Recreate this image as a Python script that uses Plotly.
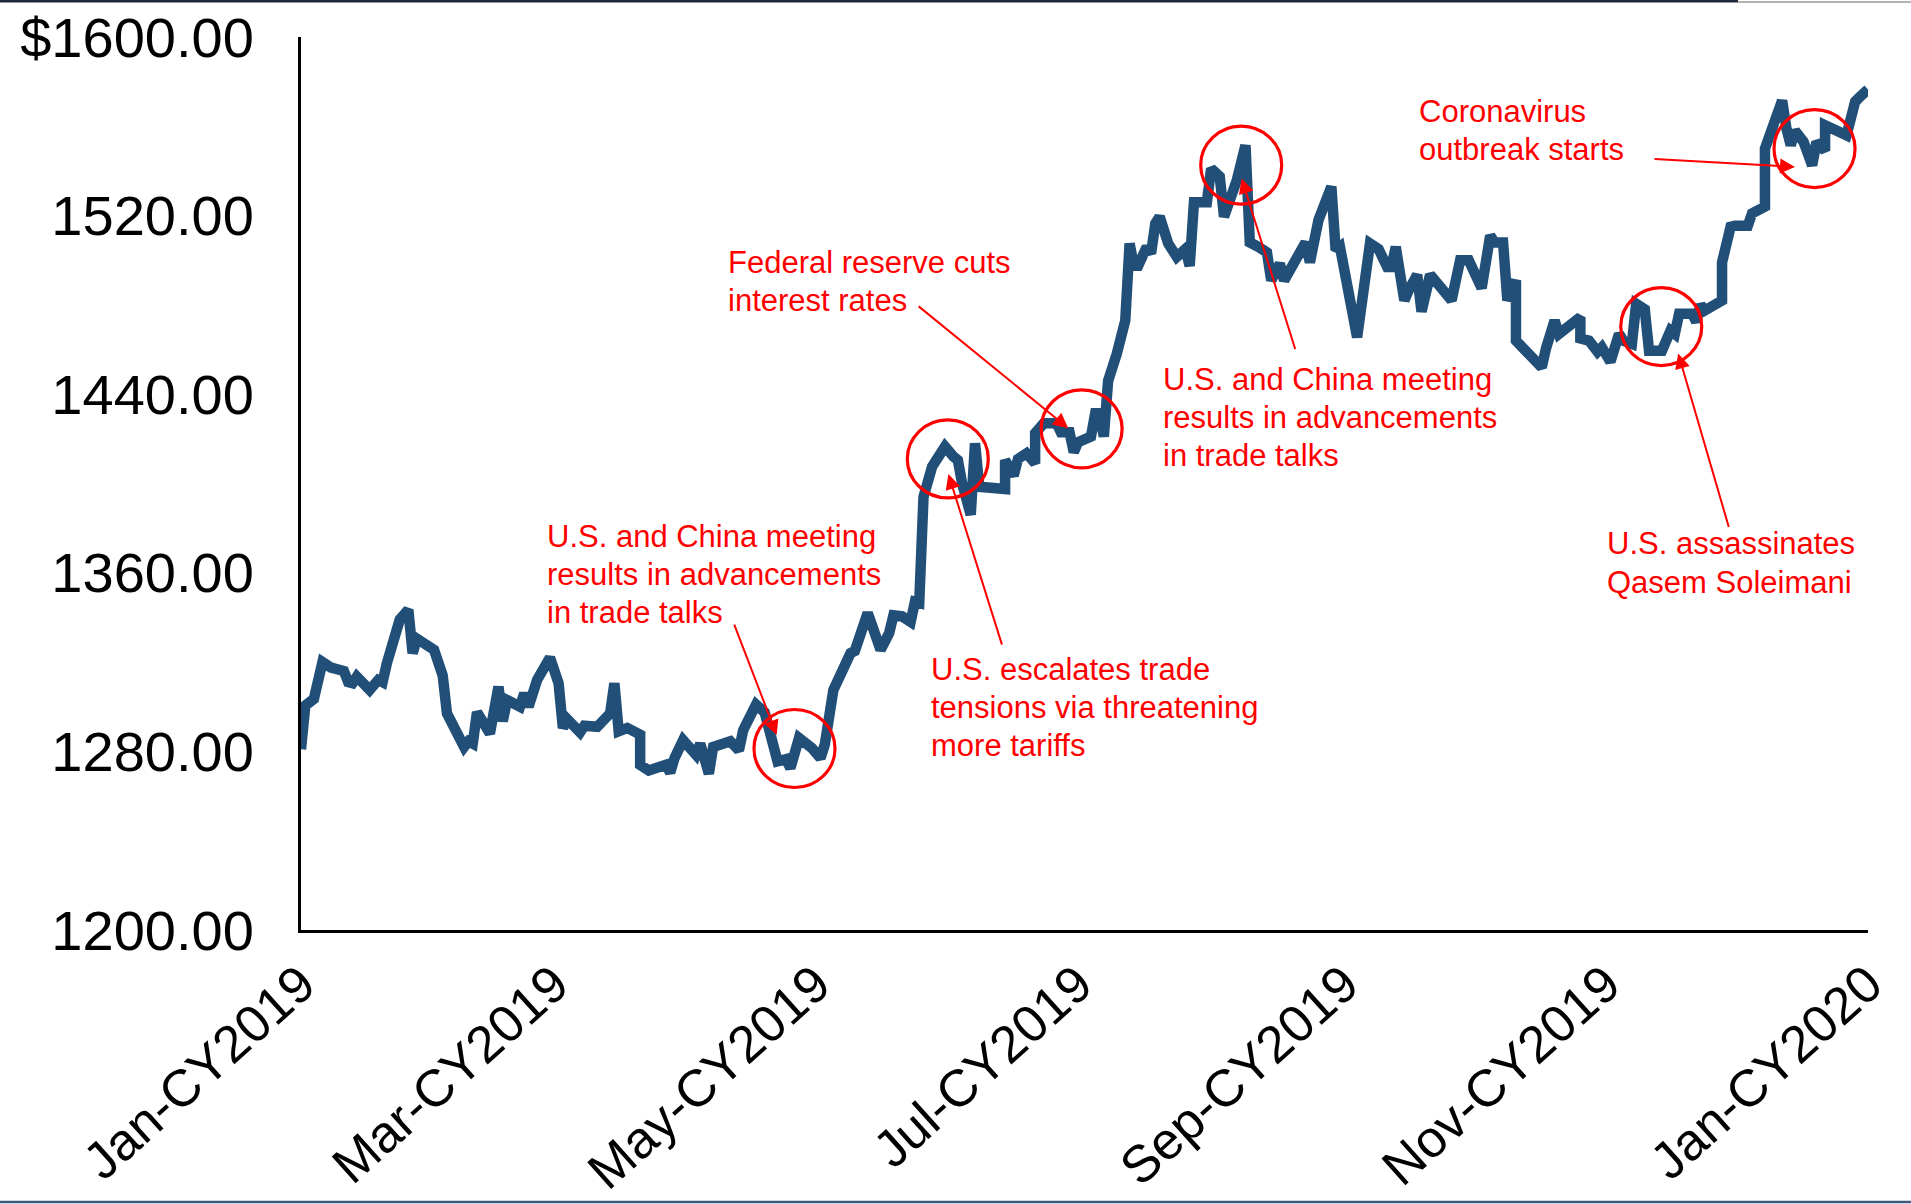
import pandas as pd
import plotly.graph_objects as go

START = pd.Timestamp("2019-01-01")


def day(n):
    """Calendar position n days after 1 Jan 2019."""
    return START + pd.Timedelta(days=n)


# Gold spot price path: day offset from 1 Jan 2019 and price in USD/oz
day_offsets = [
    0, 1, 3, 4, 5, 7, 10, 11, 12, 13, 16, 18, 19, 20, 23, 25, 26, 27, 30,
    31, 33, 34, 38, 39, 40, 41, 44, 46, 47, 48, 51, 52, 53, 55, 58,
    60, 61, 62, 65, 66, 69, 72, 73, 74, 76, 79, 79, 81, 85, 86, 87, 89,
    92, 93, 95, 96, 100, 102, 103, 106, 108, 109, 111, 113, 114, 116, 119,
    121, 122, 124, 126, 128, 129, 132, 135, 137, 138, 140, 142, 143, 144, 145,
    147, 150, 152, 153, 154, 156, 157, 158, 164, 164, 166, 167, 169, 171, 171,
    173, 176, 177, 179, 180, 181, 184, 185, 186, 187, 188, 190, 192, 193, 194,
    195, 197, 198, 199, 200, 202, 204, 206, 207, 208, 209, 211,
    212, 214, 215, 218, 220, 221, 223, 225, 226, 228, 229, 232, 234, 235, 237,
    240, 241, 242, 246, 249, 251, 253, 254, 255, 257, 258, 260, 261, 263, 265,
    268, 270, 272, 275, 277, 278, 280, 281, 283, 283, 285, 287, 289, 290, 292,
    293, 296, 298, 298, 300, 302, 303, 305, 307, 308, 310, 311, 313, 314, 317,
    319, 320, 321, 324, 325, 326, 327, 331, 331, 333, 334, 337, 338, 341, 341,
    343, 345, 346, 347, 348, 350, 352, 353, 355, 355, 360, 362, 363, 365,
]
gold_price = [
    1281, 1300.5, 1303.5, 1310.5, 1320, 1317.5, 1316, 1311, 1310.5, 1313.5, 1307.5, 1312, 1311, 1319.5, 1339, 1343.5, 1324, 1330.5, 1327.5,
    1325.5, 1314, 1297, 1282, 1284.5, 1283.5, 1297.5, 1288, 1309, 1293.5, 1303, 1300, 1306, 1300, 1312, 1322,
    1310.5, 1290.5, 1294.5, 1288.5, 1291.5, 1291, 1297, 1310.5, 1289, 1290.5, 1287.5, 1274, 1271.5, 1274, 1270.5, 1277, 1285,
    1278.5, 1283.5, 1270, 1282, 1284.5, 1280.5, 1289.5, 1301, 1297.5, 1291, 1275.5, 1276.5, 1272.5, 1286, 1281.5,
    1277, 1283, 1307.5, 1315.5, 1324, 1325, 1342, 1325.5, 1333, 1341, 1340.5, 1338, 1347, 1346.5, 1394,
    1407.5, 1416.5, 1412, 1410.5, 1400, 1386, 1418, 1398.5, 1397.5, 1410.5, 1403.5, 1411, 1413.5, 1409, 1422.5,
    1427, 1427, 1423, 1423, 1414, 1418.5, 1421, 1431.5, 1431.5, 1421, 1446, 1458, 1473, 1507.5, 1497.5,
    1497.5, 1506, 1503, 1516.5, 1519.5, 1507.5, 1501.5, 1505, 1497.5, 1526, 1526, 1526,
    1541, 1537.5, 1519.5, 1536, 1551.5, 1508, 1506, 1503.5, 1491, 1498.5, 1491, 1502, 1508, 1499, 1518,
    1533, 1504.5, 1506, 1465.5, 1507.5, 1505, 1497, 1497, 1506, 1482, 1486.5, 1493.5, 1477, 1493.5, 1489,
    1482, 1500, 1500, 1487.5, 1511, 1508, 1508, 1482, 1491, 1464, 1460.5, 1456.5, 1452, 1460.5, 1473,
    1467, 1471.5, 1474.5, 1465, 1464, 1459, 1461, 1454.5, 1467, 1464, 1462.5, 1480.5, 1478, 1459.5, 1459.5,
    1468.5, 1467, 1476, 1476, 1472.5, 1480, 1477.5, 1482, 1499, 1515, 1515.5, 1515.5, 1521, 1524, 1550,
    1562, 1571.5, 1559, 1551.5, 1558, 1553, 1542.5, 1553, 1549, 1560.5, 1556, 1571, 1573, 1576.5,
]
assert len(day_offsets) == len(gold_price)

tick_days = [0, 59, 120, 181, 243, 304, 365]
tick_labels = ["Jan-CY2019", "Mar-CY2019", "May-CY2019", "Jul-CY2019",
               "Sep-CY2019", "Nov-CY2019", "Jan-CY2020"]
price_ticks = [1200, 1280, 1360, 1440, 1520, 1600]
price_tick_labels = ["1200.00", "1280.00", "1360.00", "1440.00", "1520.00", "$1600.00"]

# Event call-outs: ringed point (day, price), arrow tip (day, price),
# arrow tail offset in px, caption lines and caption anchor (day, price of first line)
events = [
    dict(ring=(114.95, 1281.3), tip=(110.8, 1287.3), tail=(-43, -112),
         lines=["U.S. and China meeting", "results in advancements", "in trade talks"],
         anchor=(56.8, 1376.4)),
    dict(ring=(150.66, 1411.0), tip=(150.8, 1404.2), tail=(54, 172),
         lines=["U.S. escalates trade", "tensions via threatening", "more tariffs"],
         anchor=(146.2, 1316.9)),
    dict(ring=(181.83, 1424.5), tip=(178.7, 1424.8), tail=(-151, -123),
         lines=["Federal reserve cuts", "interest rates"],
         anchor=(99.1, 1499.1)),
    dict(ring=(219.0, 1542.6), tip=(219.1, 1536.6), tail=(54, 172),
         lines=["U.S. and China meeting", "results in advancements", "in trade talks"],
         anchor=(200.4, 1446.7)),
    dict(ring=(316.84, 1470.3), tip=(320.8, 1458.2), tail=(51, 175),
         lines=["U.S. assassinates", "Qasem Soleimani"],
         anchor=(303.75, 1373.0)),
    dict(ring=(352.55, 1550.0), tip=(348.0, 1541.8), tail=(-142, -8),
         lines=["Coronavirus", "outbreak starts"],
         anchor=(260.0, 1566.7)),
]

FONT = "Liberation Sans, Arial, Helvetica, sans-serif"
RED = "#FF0000"
LINE_GAP = 38.3

fig = go.Figure()
fig.add_trace(go.Scatter(
    x=[day(d) for d in day_offsets],
    y=gold_price,
    mode="lines",
    line=dict(color="#224F78", width=10.5),
    hoverinfo="x+y",
    showlegend=False,
))

shapes = []
annotations = []
for ev in events:
    cx, cy = ev["ring"]
    shapes.append(dict(
        type="circle", xref="x", yref="y",
        xsizemode="pixel", ysizemode="pixel",
        xanchor=day(cx), yanchor=cy,
        x0=-40.5, x1=40.5, y0=-39, y1=39,
        line=dict(color=RED, width=3.2),
    ))
    tx, ty = ev["tip"]
    annotations.append(dict(
        x=day(tx), y=ty, xref="x", yref="y",
        ax=ev["tail"][0], ay=ev["tail"][1],
        text="", showarrow=True,
        arrowhead=2, arrowsize=1.5, arrowwidth=2, arrowcolor=RED,
        standoff=0, startstandoff=0,
    ))
    lx, ly = ev["anchor"]
    for i, line in enumerate(ev["lines"]):
        annotations.append(dict(
            x=day(lx), y=ly, xref="x", yref="y",
            text=line, showarrow=False,
            xanchor="left", yanchor="middle",
            yshift=-i * LINE_GAP,
            font=dict(family=FONT, size=31, color=RED),
        ))

# frame rules along the top and bottom edges of the page
shapes += [
    dict(type="line", xref="paper", yref="paper",
         x0=-0.1921, x1=0.917, y0=1.0403, y1=1.0403,
         line=dict(color="#1B2838", width=3)),
    dict(type="line", xref="paper", yref="paper",
         x0=0.917, x1=1.0274, y0=1.0392, y1=1.0392,
         line=dict(color="#9A9A9A", width=1.5)),
    dict(type="line", xref="paper", yref="paper",
         x0=-0.1921, x1=1.0274, y0=-0.3046, y1=-0.3046,
         line=dict(color="#3C5A7A", width=2.5)),
]

fig.update_layout(
    width=1911, height=1204,
    margin=dict(l=301, r=43, t=37, b=274, pad=0, autoexpand=False),
    paper_bgcolor="white", plot_bgcolor="white",
    font=dict(family=FONT, color="black"),
    shapes=shapes,
    annotations=annotations,
    xaxis=dict(
        type="date",
        range=[day(0), day(365)],
        tickvals=[day(d) for d in tick_days],
        ticktext=tick_labels,
        tickangle=-42,
        tickfont=dict(family=FONT, size=52, color="black"),
        showline=True, linecolor="black", linewidth=3,
        showgrid=False, zeroline=False, ticks="",
        automargin=False,
    ),
    yaxis=dict(
        range=[1200, 1600],
        tickvals=price_ticks,
        ticktext=price_tick_labels,
        tickfont=dict(family=FONT, size=56, color="black"),
        showline=True, linecolor="black", linewidth=3,
        showgrid=False, zeroline=False, ticks="",
        ticklabelstandoff=33,
        automargin=False,
    ),
)

fig.write_html("out.html")
